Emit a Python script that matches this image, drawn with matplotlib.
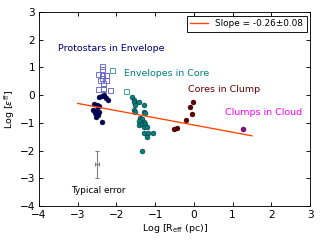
import numpy as np
import matplotlib
matplotlib.use('Agg')
import matplotlib.pyplot as plt

# Protostars in Envelope (open squares)
proto_env_x = [-2.38, -2.38, -2.48, -2.38, -2.27, -2.38, -2.42, -2.27, -2.34, -2.36, -2.48, -2.34, -2.18]
proto_env_y = [1.06, 0.94, 0.78, 0.72, 0.72, 0.60, 0.54, 0.54, 0.42, 0.24, 0.21, 0.21, 0.18]

# Envelopes in Core (open squares)
env_sq_x = [-2.12, -1.76]
env_sq_y = [0.90, 0.14]

# Protostars (filled dots)
proto_x = [-2.38, -2.33, -2.44, -2.28, -2.23, -2.58, -2.50, -2.46, -2.60, -2.51, -2.56, -2.47, -2.53, -2.44, -2.37]
proto_y = [-0.02, 0.00, -0.07, -0.10, -0.18, -0.33, -0.36, -0.40, -0.55, -0.52, -0.66, -0.70, -0.78, -0.60, -0.96]

# Envelopes in Core (filled dots)
env_x = [-1.60, -1.55, -1.56, -1.43, -1.52, -1.29, -1.56, -1.52, -1.30, -1.26, -1.39, -1.35,
         -1.43, -1.30, -1.43, -1.35, -1.26, -1.30, -1.22, -1.30, -1.18, -1.05, -1.22, -1.35]
env_y = [-0.08, -0.18, -0.26, -0.24, -0.36, -0.36, -0.54, -0.60, -0.60, -0.66, -0.81, -0.88,
         -0.93, -0.96, -1.08, -1.05, -1.05, -1.14, -1.14, -1.38, -1.38, -1.38, -1.51, -2.01]

# Cores in Clump
core_x = [-0.03, -0.10, -0.05, -0.20, -0.43, -0.51]
core_y = [-0.24, -0.42, -0.69, -0.90, -1.17, -1.23]

# Clumps in Cloud
clump_x = [1.26]
clump_y = [-1.24]

# fit
slope = -0.26
intercept = -1.08
fit_x = np.array([-3.0, 1.5])

fig = plt.figure(figsize=(4, 3), dpi=80)
ax = fig.add_axes([0.122, 0.142, 0.847, 0.808])

ax.plot(proto_env_x, proto_env_y, 's', mfc='none', mec='#6666cc', ms=4.5, mew=0.8)
ax.plot(env_sq_x, env_sq_y, 's', mfc='none', mec='#339999', ms=4.5, mew=0.8)
ax.plot(proto_x, proto_y, 'o', color='#000066', ms=4.5, mec='k', mew=0.3)
ax.plot(env_x, env_y, 'o', color='#008080', ms=4.5, mec='k', mew=0.3)
ax.plot(core_x, core_y, 'o', color='#660000', ms=4.5, mec='k', mew=0.3)
ax.plot(clump_x, clump_y, 'o', color='#990099', ms=4.5, mec='k', mew=0.3)

ax.plot(fit_x, slope * fit_x + intercept, '-', color='#ff4500', lw=1.2,
        label=u'Slope = -0.26\u00b10.08')

ax.errorbar([-2.5], [-2.5], xerr=[0.06], yerr=[0.5], fmt='none', ecolor='gray', elinewidth=1, capsize=2)

ax.text(-3.5, 1.6, 'Protostars in Envelope', color='#000080', fontsize=8.5)
ax.text(-1.8, 0.7, 'Envelopes in Core', color='#008080', fontsize=8.5)
ax.text(-0.14, 0.12, 'Cores in Clump', color='#660000', fontsize=8.5)
ax.text(0.81, -0.70, 'Clumps in Cloud', color='#ff00ff', fontsize=8.5)
ax.text(-2.48, -3.43, 'Typical error', color='k', fontsize=8, ha='center', va='center')

ax.set_xlim(-4, 3)
ax.set_ylim(-4, 3)
ax.set_xlabel(r'Log [R$_{\rm eff}$ (pc)]', fontsize=8.5, labelpad=2)
ax.set_ylabel(r'Log [$\epsilon^{\rm ff}$]', fontsize=8.5, labelpad=2)
ax.tick_params(direction='in', top=True, right=True, labelsize=9.5, length=4)

leg = ax.legend(loc='upper right', fontsize=8, handlelength=2, fancybox=False,
                framealpha=1, edgecolor='k', borderaxespad=0.4)
leg.get_frame().set_linewidth(0.8)

fig.savefig('out.png', dpi=80)
